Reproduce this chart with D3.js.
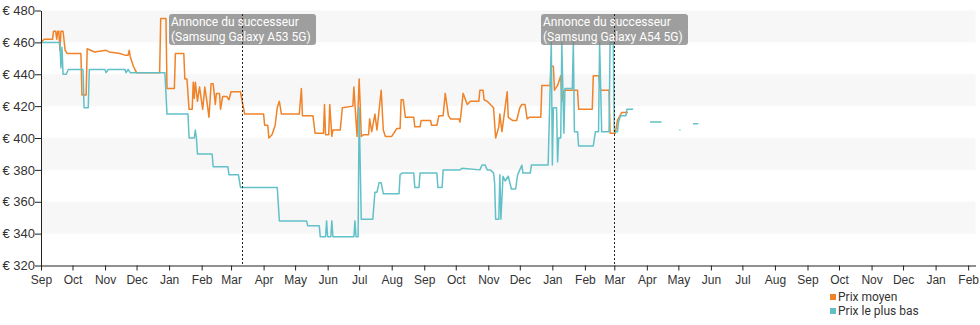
<!DOCTYPE html>
<html><head><meta charset="utf-8">
<script src="https://cdn.jsdelivr.net/npm/d3@7"></script>
<style>
html,body{margin:0;padding:0;background:#fff;}
svg{display:block;font-family:Roboto, "Noto Sans", sans-serif;}
</style></head>
<body><svg id="chart" width="980" height="325"></svg>
<script>
const avgDates = ["2021-09-01","2021-09-04","2021-09-12","2021-09-13","2021-09-15","2021-09-16","2021-09-17","2021-09-18","2021-09-19","2021-09-20","2021-09-22","2021-09-24","2021-09-26","2021-10-09","2021-10-10","2021-10-14","2021-10-15","2021-10-22","2021-11-02","2021-11-05","2021-11-15","2021-11-20","2021-11-23","2021-11-24","2021-11-25","2021-11-28","2021-12-01","2021-12-23","2021-12-24","2021-12-29","2021-12-30","2022-01-06","2022-01-07","2022-01-15","2022-01-16","2022-01-18","2022-01-20","2022-01-23","2022-01-24","2022-01-25","2022-01-26","2022-01-28","2022-01-30","2022-02-02","2022-02-04","2022-02-06","2022-02-08","2022-02-10","2022-02-12","2022-02-14","2022-02-15","2022-02-18","2022-02-19","2022-02-21","2022-02-25","2022-02-27","2022-03-01","2022-03-10","2022-03-11","2022-03-14","2022-04-01","2022-04-02","2022-04-05","2022-04-06","2022-04-09","2022-04-12","2022-04-14","2022-04-16","2022-04-18","2022-05-05","2022-05-07","2022-05-08","2022-05-18","2022-05-20","2022-05-28","2022-05-29","2022-05-30","2022-06-02","2022-06-03","2022-06-05","2022-06-06","2022-06-13","2022-06-15","2022-06-25","2022-06-26","2022-06-27","2022-06-29","2022-07-01","2022-07-02","2022-07-03","2022-07-05","2022-07-10","2022-07-11","2022-07-13","2022-07-16","2022-07-18","2022-07-22","2022-07-24","2022-07-26","2022-08-01","2022-08-03","2022-08-06","2022-08-09","2022-08-10","2022-08-12","2022-08-14","2022-08-22","2022-08-23","2022-08-28","2022-08-29","2022-09-07","2022-09-08","2022-09-13","2022-09-15","2022-09-19","2022-09-21","2022-09-24","2022-09-26","2022-10-04","2022-10-05","2022-10-06","2022-10-08","2022-10-12","2022-10-15","2022-10-23","2022-10-24","2022-10-27","2022-10-28","2022-10-31","2022-11-03","2022-11-06","2022-11-08","2022-11-11","2022-11-12","2022-11-14","2022-11-17","2022-11-19","2022-11-20","2022-11-24","2022-11-28","2022-12-01","2022-12-03","2022-12-06","2022-12-08","2022-12-10","2022-12-21","2022-12-22","2022-12-30","2022-12-31","2023-01-02","2023-01-03","2023-01-06","2023-01-09","2023-01-10","2023-01-12","2023-01-25","2023-01-26","2023-02-08","2023-02-09","2023-02-14","2023-02-16","2023-02-24","2023-02-25","2023-03-02","2023-03-04","2023-03-08","2023-03-14"];
const avgValues = [460,462,462,467,467,462,467,467,455,467,467,455,453,453,427,427,456,454,455,454,453,452,452,455,451,445,441,441,475,475,431,431,453,453,437,437,418,418,435,425,435,423,432,418,432,423,413,434,434,421,428,428,418,426,426,424,429,429,425,415,415,408,408,400,402,408,419,423,415,415,431,414,414,403,403,421,402,402,421,401,405,405,419,420,432,421,401,437,421,401,402,402,412,404,415,405,430,405,401,401,403,406,406,424,424,413,413,407,407,411,411,408,408,414,414,428,414,412,412,410,415,428,421,423,423,430,430,424,423,421,419,400,407,415,404,419,429,413,411,411,419,421,421,412,413,413,433,433,445,445,430,433,439,423,430,430,418,418,439,439,430,430,403,403,411,416,416];

const lowDates = ["2021-09-01","2021-09-19","2021-09-20","2021-09-21","2021-09-22","2021-09-25","2021-09-27","2021-10-11","2021-10-12","2021-10-16","2021-10-17","2021-11-01","2021-11-02","2021-11-04","2021-11-20","2021-11-21","2021-11-23","2021-11-25","2021-12-28","2021-12-30","2022-01-19","2022-01-20","2022-01-25","2022-01-26","2022-01-27","2022-01-28","2022-02-11","2022-02-12","2022-02-26","2022-02-27","2022-03-08","2022-03-10","2022-04-14","2022-04-16","2022-05-12","2022-05-13","2022-05-24","2022-05-25","2022-05-30","2022-05-31","2022-06-01","2022-06-04","2022-06-05","2022-06-06","2022-06-26","2022-06-27","2022-06-28","2022-06-30","2022-07-01","2022-07-03","2022-07-14","2022-07-16","2022-07-18","2022-07-20","2022-07-22","2022-07-24","2022-08-08","2022-08-09","2022-08-11","2022-08-22","2022-08-23","2022-08-27","2022-08-28","2022-09-13","2022-09-14","2022-09-18","2022-09-19","2022-10-05","2022-10-07","2022-10-24","2022-10-26","2022-10-29","2022-10-31","2022-11-03","2022-11-06","2022-11-07","2022-11-08","2022-11-11","2022-11-12","2022-11-13","2022-11-15","2022-11-17","2022-11-20","2022-11-23","2022-11-27","2022-11-29","2022-12-03","2022-12-04","2022-12-11","2022-12-12","2022-12-28","2022-12-31","2023-01-01","2023-01-02","2023-01-05","2023-01-06","2023-01-07","2023-01-09","2023-01-10","2023-01-12","2023-01-13","2023-01-20","2023-01-21","2023-01-22","2023-01-25","2023-01-26","2023-02-09","2023-02-11","2023-02-14","2023-02-15","2023-02-17","2023-02-24","2023-02-25","2023-02-28","2023-03-01","2023-03-04","2023-03-05","2023-03-07","2023-03-12","2023-03-13","2023-03-19","2023-03-25","2023-04-04","2023-04-15","2023-04-25","2023-05-02","2023-05-03","2023-05-10","2023-05-15","2023-05-20"];
const lowValues = [460,460,444,457,440,440,443,443,419,419,443,443,441,443,443,441,443,441,441,415,415,400,400,405,400,390,390,382,382,377,377,369,369,348,348,345,345,338,338,348,338,338,348,338,338,348,338,338,419,349,349,366,366,372,372,365,365,377,378,378,369,369,378,378,369,369,380,380,381,380,383,383,380,380,378,372,349,349,377,349,376,373,376,368,368,377,383,378,378,383,383,460,383,419,419,385,400,400,460,403,431,431,460,404,404,395,395,404,404,460,404,404,460,460,404,404,410,414,414,418,418,null,410,410,null,405,405,null,409,409];

const yTicks = [320,340,360,380,400,420,440,460,480];
const monthLabels = ["Sep","Oct","Nov","Dec","Jan","Feb","Mar","Apr","May","Jun","Jul","Aug","Sep","Oct","Nov","Dec","Jan","Feb","Mar","Apr","May","Jun","Jul","Aug","Sep","Oct","Nov","Dec","Jan","Feb"];
const annotationDates = ["2022-03-11","2023-03-01"];
const annotationLines1 = ["Annonce du successeur","Annonce du successeur"];
const annotationLines2 = ["(Samsung Galaxy A53 5G)","(Samsung Galaxy A54 5G)"];
const seriesNames = ["Prix moyen","Prix le plus bas"];
const seriesColors = ["#f08228","#62c1c8"];

const parse = d3.utcParse("%Y-%m-%d");
const svg = d3.select("#chart");
const L = 41, R = 975.5, T = 10.5, B = 265.5;
const x = d3.scaleUtc().domain([parse("2021-09-01"), parse("2024-02-08")]).range([L, R]);
const y = d3.scaleLinear().domain([320, 480]).range([B, T]);

// bands
const bandStarts = [460,420,380,340];
svg.append("g").selectAll("rect").data(bandStarts).join("rect")
  .attr("x", L).attr("width", R - L)
  .attr("y", d => y(d + 20)).attr("height", d => y(d) - y(d + 20))
  .attr("fill", "#f7f7f7");

function mk(dates, vals){ return dates.map((d,i)=>({d:parse(d), v:vals[i]})); }
const avg = mk(avgDates, avgValues);
const low = mk(lowDates, lowValues);
const line = d3.line().defined(p => p.v != null).x(p => x(p.d)).y(p => y(p.v));

svg.append("path").datum(avg).attr("d", line).attr("fill","none")
  .attr("stroke", seriesColors[0]).attr("stroke-width", 1.5).attr("stroke-linejoin","round");
svg.append("path").datum(low).attr("d", line).attr("fill","none")
  .attr("stroke", seriesColors[1]).attr("stroke-width", 1.5).attr("stroke-linejoin","round");

// axes
const monthTicks = d3.utcMonth.range(parse("2021-09-01"), parse("2024-02-08"));
const xAxis = d3.axisBottom(x).tickValues(monthTicks).tickSize(5).tickSizeOuter(0)
  .tickFormat((d,i) => monthLabels[i]);
const gx = svg.append("g").attr("transform", `translate(0,${B})`).call(xAxis);
gx.selectAll("text").attr("font-size", 12).attr("fill", "#333").attr("dy", "0.85em");
gx.selectAll("line").attr("stroke", "#222");
gx.select(".domain").attr("stroke", "#222");

const yAxis = d3.axisLeft(y).tickValues(yTicks).tickSize(6).tickSizeOuter(0)
  .tickFormat(d => "€ " + d);
const gy = svg.append("g").attr("transform", `translate(${L},0)`).call(yAxis);
gy.selectAll("text").attr("font-size", 13).attr("fill", "#333").attr("x", -6);
gy.selectAll("line").attr("stroke", "#222");
gy.select(".domain").attr("stroke", "#222");

// annotations
annotationDates.forEach((ds, i) => {
  const ax = Math.round(x(parse(ds))) + 0.5;
  const w = 147, h = 31;
  const g = svg.append("g");
  g.append("rect").attr("x", ax - w/2).attr("y", 14).attr("width", w).attr("height", h)
    .attr("rx", 3).attr("fill", "rgba(128,128,128,0.75)");
  g.append("line").attr("x1", ax).attr("x2", ax).attr("y1", 14).attr("y2", B)
    .attr("stroke", "#222").attr("stroke-width", 1).attr("stroke-dasharray", "2,2");
  g.append("text").attr("x", ax - w/2 + 2).attr("y", 26).attr("fill", "#fff")
    .attr("font-size", 12).text(annotationLines1[i]);
  g.append("text").attr("x", ax - w/2 + 2).attr("y", 41).attr("fill", "#fff")
    .attr("font-size", 12).text(annotationLines2[i]);
});

// legend
const lg = svg.append("g").attr("transform", "translate(830,292)");
seriesNames.forEach((n, i) => {
  lg.append("rect").attr("x", 0).attr("y", i*14 + 2).attr("width", 6).attr("height", 6)
    .attr("fill", seriesColors[i]);
  lg.append("text").attr("x", 8).attr("y", i*14 + 9).attr("font-size", 12)
    .attr("fill", "#333").text(n);
});
</script></body></html>
